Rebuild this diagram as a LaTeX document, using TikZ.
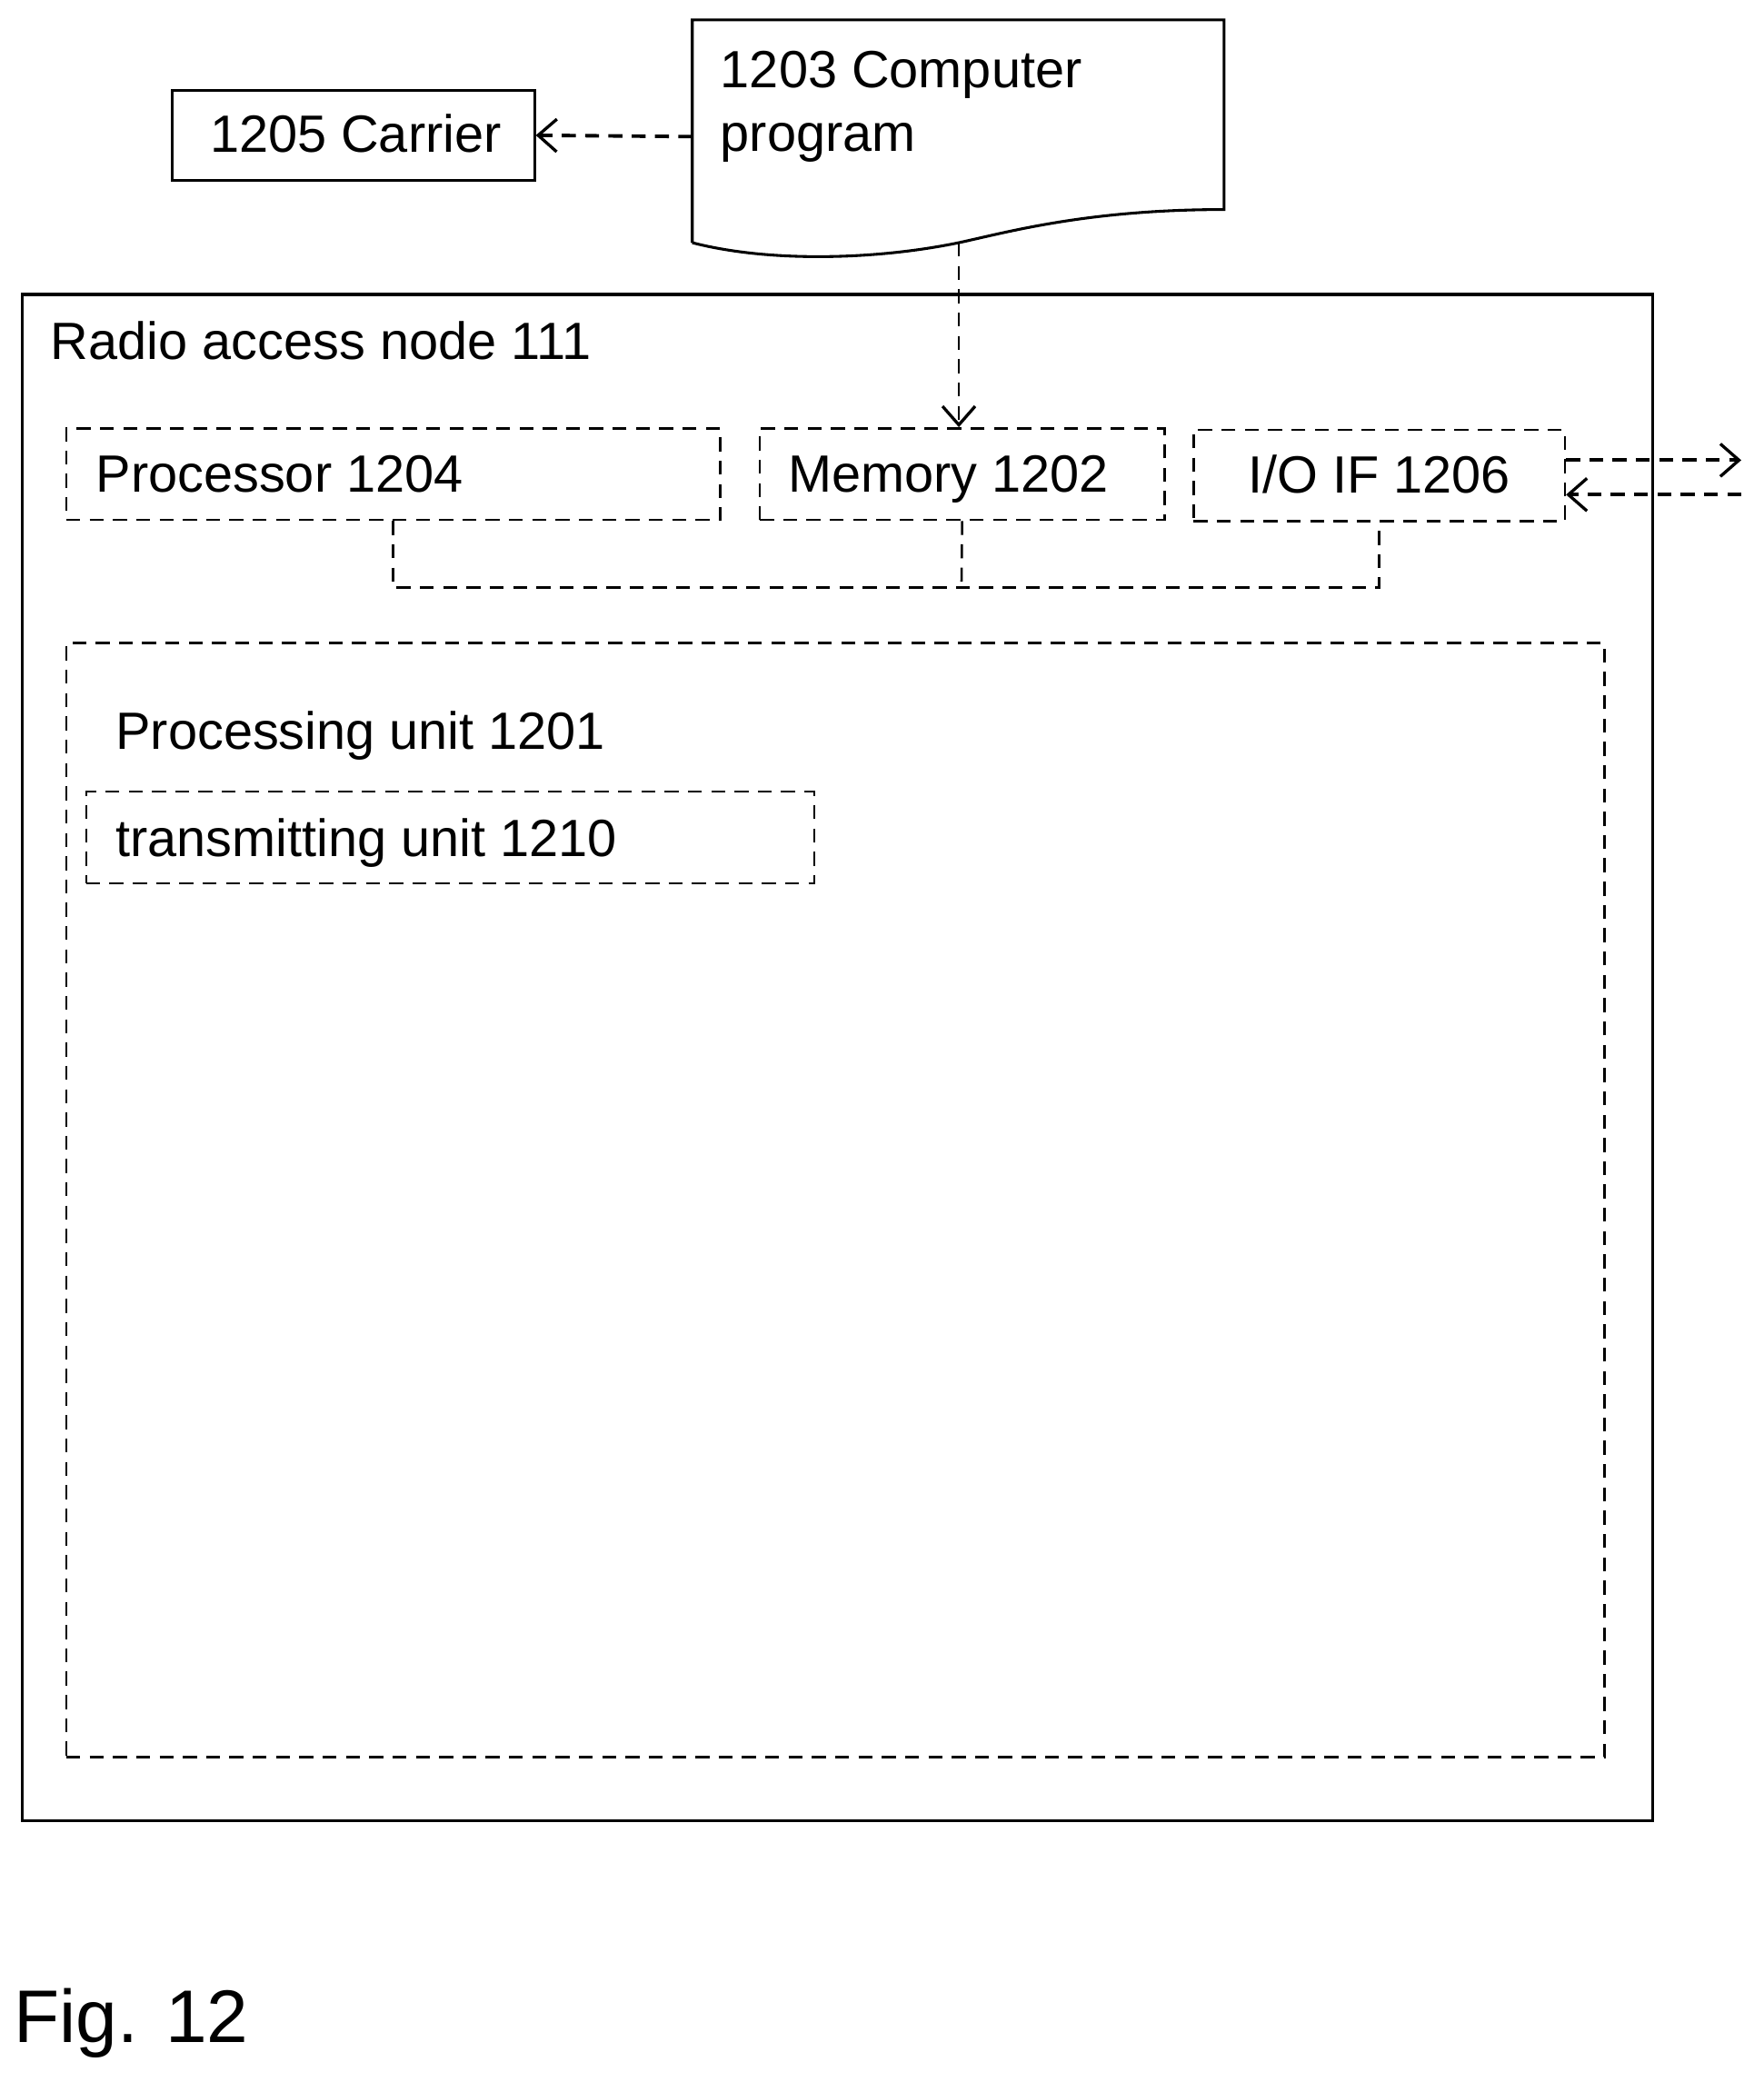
\documentclass[tikz,border=0pt]{standalone}
\usepackage{fontspec}
\setmainfont{Liberation Sans}
\usetikzlibrary{positioning,arrows.meta}
\tikzset{
  box/.style={draw, line width=1.2pt, inner sep=0pt},
  dbox/.style={draw, line width=1pt, dash pattern=on 6pt off 4pt, inner sep=0pt},
  lbl/.style={font=\fontsize{22.5}{27.5}\selectfont, inner sep=0pt},
  dline/.style={line width=1pt, dash pattern=on 6pt off 4pt},
  darrow/.style={line width=1.5pt, dash pattern=on 6pt off 4pt, -{Straight Barb[length=8pt, width=14pt, line width=1.3pt]}},
}
\begin{document}
\begin{tikzpicture}[x=0.02cm, y=-0.02cm]
        \useasboundingbox (0,0) rectangle (1330,1570);
        % carrier and computer program
        \node[box, minimum width=273*0.02cm, minimum height=68*0.02cm] (carrier) at (266.5,102) {};
        \node[lbl, anchor=base west] (carrierl) at (158,115) {1205 Carrier};
        \draw[line width=1.2pt] (522,183) coordinate (pbl) -- (522,15) -- (923,15) -- (923,158) coordinate (pbr)
            .. controls (820,158) and (760,175) .. (723,183) coordinate (pbm)
            .. controls (660,196) and (580,198) .. (pbl);
        \node[lbl, anchor=north west, align=left] (progl) at (543,38) {1203 Computer\\program};
        \coordinate (progw) at (522,103);
        \draw[darrow] (progw) -- (carrier.east);
        % radio access node
        \node[box, minimum width=1229*0.02cm, minimum height=1151*0.02cm] (ran) at (631.5,797.5) {};
        \node[lbl, anchor=base west] (ranl) at (38,271) {Radio access node 111};
        \node[dbox, minimum width=493*0.02cm, minimum height=69*0.02cm] (proc) at (296.5,357.5) {};
        \node[lbl, anchor=base west] (procl) at (72,371) {Processor 1204};
        \node[dbox, minimum width=305*0.02cm, minimum height=69*0.02cm] (mem) at (725.5,357.5) {};
        \node[lbl, anchor=base west] (meml) at (594,371) {Memory 1202};
        \node[dbox, minimum width=280*0.02cm, minimum height=69*0.02cm] (io) at (1040,358.5) {};
        \node[lbl, anchor=base] (iol) at (1040,372) {I/O IF 1206};
        \draw[dline, -{Straight Barb[length=8pt, width=14pt, line width=1.3pt]}] (pbm) -- (mem.north -| pbm);
        % io arrows
        \coordinate (out1) at (1313,347);
        \coordinate (out2) at (1313,373);
        \draw[darrow] (io.east |- out1) -- (out1);
        \draw[darrow] (out2) -- (io.east |- out2);
        % bus
        \coordinate (bus) at (725,443);
        \draw[dline] (proc.south) |- (bus) -| (io.south);
        \draw[dline] (mem.south) -- (bus);
        % processing unit
        \node[dbox, minimum width=1160*0.02cm, minimum height=840*0.02cm] (pu) at (630,905) {};
        \node[lbl, anchor=base west] (pul) at (87,565) {Processing unit 1201};
        \node[dbox, minimum width=549*0.02cm, minimum height=69*0.02cm] (tx) at (339.5,631.5) {};
        \node[lbl, anchor=base west] (txl) at (87,646) {transmitting unit 1210};
        % figure label
        \node[font=\fontsize{32}{38}\selectfont, inner sep=0pt, anchor=base west] (fig) at (10,1540) {Fig. 12};
    \end{tikzpicture}
\end{document}
